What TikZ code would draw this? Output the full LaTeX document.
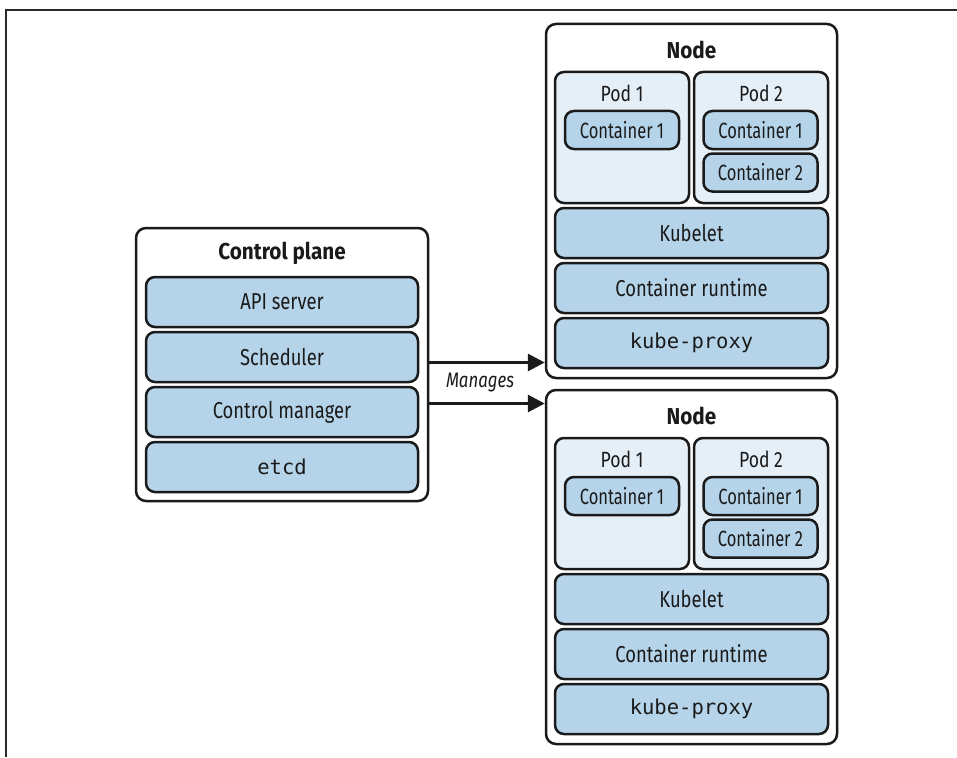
\documentclass[tikz,border=0pt]{standalone}
\usepackage{fontspec}
\setmainfont{Fira Sans}[FakeStretch=0.8]
\newfontfamily\headfont{Fira Sans}[FakeStretch=0.9]
\newfontfamily\narrowfont{Fira Sans}[FakeStretch=0.75]
\setmonofont{DejaVu Sans Mono}
\usetikzlibrary{arrows.meta}

\definecolor{ink}{HTML}{1A1A1A}
\definecolor{frame}{HTML}{2A2A2A}
\definecolor{compblue}{HTML}{B5D4E9}
\definecolor{podblue}{HTML}{E5EFF7}

\tikzset{
  outerbox/.style={draw=ink, fill=white, line width=2.5pt, rounded corners=10pt},
  compbox/.style={draw=ink, fill=compblue, line width=2.5pt, rounded corners=9pt,
    text=ink, font=\fontsize{23}{27}\selectfont, inner sep=0pt},
  podbox/.style={draw=ink, fill=podblue, line width=2.5pt, rounded corners=9pt, inner sep=0pt},
  ctrbox/.style={draw=ink, fill=compblue, line width=2.5pt, rounded corners=9pt,
    text=ink, font=\fontsize{22}{26}\selectfont\narrowfont, inner sep=0pt,
    minimum width=114pt, minimum height=38pt},
  titletext/.style={text=ink, font=\fontsize{23}{27}\selectfont\headfont\bfseries},
  podtext/.style={text=ink, font=\fontsize{22}{26}\selectfont},
  codetext/.style={font=\fontsize{20.5}{24}\selectfont\ttfamily},
  arr/.style={draw=ink, line width=3pt, -{Triangle[length=17pt, width=17pt]}},
}

\begin{document}
\begin{tikzpicture}[x=1pt, y=-1pt]
\useasboundingbox (0,0) rectangle (957,757);

% page frame lines
\draw[frame, line width=2pt] (6,757) -- (6,10) -- (957,10);

% control plane
\node[outerbox, minimum width=292pt, minimum height=273pt] (cp) at (282,364.5) {};
\node[titletext] (cptitle) at (282,253) {Control plane};
\node[compbox, minimum width=272pt, minimum height=50pt] (api) at (282,302) {API server};
\node[compbox, minimum width=272pt, minimum height=50pt] (sched) at (282,357) {Scheduler};
\node[compbox, minimum width=272pt, minimum height=50pt] (cm) at (282,412) {Control manager};
\node[compbox, minimum width=272pt, minimum height=50pt, codetext] (etcd) at (282,467) {etcd};

% worker nodes
\foreach \p/\dy in {n1/0, n2/366} {
  \begin{scope}[yshift=-\dy pt]
    \node[outerbox, minimum width=291pt, minimum height=354pt] (\p) at (691.5,201) {};
    \node[titletext] (\p-title) at (691.5,50) {Node};
    \node[podbox, minimum width=134pt, minimum height=131pt] (\p-pod1) at (622,137.5) {};
    \node[podbox, minimum width=134pt, minimum height=131pt] (\p-pod2) at (761,137.5) {};
    \node[podtext] (\p-pod1-label) at (622,93) {Pod 1};
    \node[podtext] (\p-pod2-label) at (761,93) {Pod 2};
    \node[ctrbox] (\p-p1c1) at (622,130) {Container 1};
    \node[ctrbox] (\p-p2c1) at (760.5,130) {Container 1};
    \node[ctrbox] (\p-p2c2) at (760.5,172.5) {Container 2};
    \node[compbox, minimum width=273pt, minimum height=50pt] (\p-kubelet) at (691.5,233) {Kubelet};
    \node[compbox, minimum width=273pt, minimum height=50pt] (\p-runtime) at (691.5,288) {Container runtime};
    \node[compbox, minimum width=273pt, minimum height=50pt, codetext] (\p-proxy) at (691.5,343) {kube-proxy};
  \end{scope}
}

% management arrows
\coordinate (m1) at (0,362.5);
\coordinate (m2) at (0,403.5);
\draw[arr] (cp.east |- m1) -- (n1.west |- m1);
\draw[arr] (cp.east |- m2) -- (n2.west |- m2);
\node[text=ink, font=\fontsize{21}{25}\selectfont\itshape] (manages) at (480,383) {Manages};

\end{tikzpicture}
\end{document}
